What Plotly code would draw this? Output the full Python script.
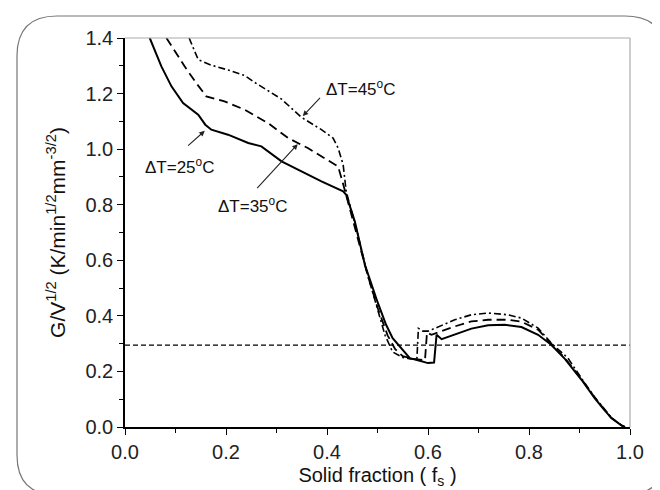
import plotly.graph_objects as go

# ---- data ----
x_25 = [0.049, 0.072, 0.092, 0.115, 0.145, 0.159, 0.171, 0.204, 0.244, 0.27, 0.31, 0.349, 0.389, 0.432,
        0.438, 0.455, 0.475, 0.50, 0.517, 0.53, 0.541, 0.564, 0.58, 0.60, 0.612, 0.617, 0.627, 0.653,
        0.686, 0.719, 0.752, 0.785, 0.818, 0.844, 0.871, 0.904, 0.930, 0.947, 0.963, 0.983, 0.99]
y_25 = [1.4, 1.298, 1.226, 1.166, 1.124, 1.088, 1.070, 1.052, 1.022, 1.01, 0.956, 0.92, 0.884, 0.848,
        0.836, 0.74, 0.584, 0.45, 0.368, 0.32, 0.296, 0.248, 0.24, 0.23, 0.232, 0.332, 0.316, 0.332,
        0.354, 0.366, 0.368, 0.36, 0.332, 0.296, 0.245, 0.17, 0.104, 0.066, 0.032, 0.006, 0.0]

x_35 = [0.082, 0.118, 0.141, 0.161, 0.197, 0.237, 0.283, 0.323, 0.362, 0.395, 0.422, 0.435, 0.44, 0.46,
        0.48, 0.50, 0.52, 0.535, 0.55, 0.57, 0.594, 0.598, 0.607, 0.653, 0.686, 0.719, 0.758, 0.785,
        0.818, 0.844, 0.871, 0.904, 0.930, 0.947, 0.963, 0.983, 0.99]
y_35 = [1.4, 1.298, 1.238, 1.19, 1.172, 1.142, 1.094, 1.04, 1.004, 0.968, 0.938, 0.854, 0.82, 0.69,
        0.55, 0.43, 0.33, 0.28, 0.255, 0.245, 0.24, 0.34, 0.332, 0.362, 0.38, 0.386, 0.386, 0.379,
        0.35, 0.30, 0.248, 0.172, 0.106, 0.068, 0.033, 0.006, 0.0]

x_45 = [0.127, 0.145, 0.171, 0.204, 0.237, 0.257, 0.31, 0.349, 0.389, 0.412, 0.422, 0.432, 0.438,
        0.46, 0.48, 0.50, 0.515, 0.53, 0.55, 0.565, 0.578, 0.581, 0.59, 0.60, 0.607, 0.653, 0.686,
        0.719, 0.758, 0.785, 0.818, 0.844, 0.877, 0.904, 0.930, 0.947, 0.963, 0.983, 0.99]
y_45 = [1.4, 1.322, 1.302, 1.285, 1.265, 1.24, 1.18, 1.115, 1.07, 1.04, 1.004, 0.944, 0.848,
        0.70, 0.55, 0.42, 0.33, 0.27, 0.25, 0.245, 0.245, 0.355, 0.345, 0.345, 0.35, 0.386, 0.404,
        0.41, 0.404, 0.392, 0.356, 0.302, 0.248, 0.175, 0.108, 0.07, 0.034, 0.006, 0.0]

ref_x = [0.0, 1.0]
ref_y = [0.295, 0.295]

labels = ["ΔT=25<sup>o</sup>C", "ΔT=35<sup>o</sup>C", "ΔT=45<sup>o</sup>C"]
label_pos = [(0.107, 0.94), (0.253, 0.80), (0.466, 1.22)]
arrow_tip = [(0.158, 1.066), (0.342, 1.018), (0.352, 1.119)]
arrow_tail = [(0.122, 1.008), (0.259, 0.854), (0.389, 1.19)]

FONT = "Liberation Sans, Arial, sans-serif"

fig = go.Figure()
fig.add_trace(go.Scatter(x=ref_x, y=ref_y, mode="lines",
                         line=dict(color="black", width=1.2, dash="5px,3px")))
fig.add_trace(go.Scatter(x=x_25, y=y_25, mode="lines", line=dict(color="black", width=2)))
fig.add_trace(go.Scatter(x=x_35, y=y_35, mode="lines",
                         line=dict(color="black", width=1.8, dash="9px,5px")))
fig.add_trace(go.Scatter(x=x_45, y=y_45, mode="lines",
                         line=dict(color="black", width=1.6, dash="7px,3px,2px,3px")))

for (tx, ty), lab in zip(label_pos, labels):
    fig.add_annotation(x=tx, y=ty, text=lab, showarrow=False,
                       font=dict(family=FONT, size=17, color="#111"))
for (hx, hy), (sx, sy) in zip(arrow_tip, arrow_tail):
    fig.add_annotation(x=hx, y=hy, ax=sx, ay=sy, axref="x", ayref="y", text="",
                       showarrow=True, arrowhead=2, arrowsize=1, arrowwidth=1.1,
                       arrowcolor="#222")

# plot frame (top/right in gray)
fig.add_shape(type="line", xref="paper", yref="paper", x0=0, x1=1, y0=1, y1=1,
              line=dict(color="#aaaaaa", width=1.2))
fig.add_shape(type="line", xref="paper", yref="paper", x0=1, x1=1, y0=0, y1=1,
              line=dict(color="#aaaaaa", width=1.2))

# rounded outer border
L, R, T, B, W, H = 117, 622, 30, 419, 505, 389
def px(x):
    return (x - L) / W
def py(y):
    return (B - y) / H
fl, fr, ft, fb, rad = 9, 657, 8, 487, 40
path = (f"M {px(fl+rad)},{py(ft)} L {px(fr-rad)},{py(ft)} Q {px(fr)},{py(ft)} {px(fr)},{py(ft+rad)} "
        f"L {px(fr)},{py(fb-rad)} Q {px(fr)},{py(fb)} {px(fr-rad)},{py(fb)} "
        f"L {px(fl+rad)},{py(fb)} Q {px(fl)},{py(fb)} {px(fl)},{py(fb-rad)} "
        f"L {px(fl)},{py(ft+rad)} Q {px(fl)},{py(ft)} {px(fl+rad)},{py(ft)} Z")
fig.add_shape(type="path", xref="paper", yref="paper", path=path,
              line=dict(color="#777777", width=1.2), layer="below")

axis_common = dict(showline=True, linecolor="black", linewidth=1.5, ticks="outside",
                   ticklen=6, tickwidth=1.3, tickcolor="black", showgrid=False, zeroline=False,
                   tickformat=".1f", tickfont=dict(family=FONT, size=20, color="#222"))
fig.update_xaxes(range=[0, 1], dtick=0.2, tick0=0,
                 minor=dict(dtick=0.1, ticklen=4, tickwidth=1.2, tickcolor="black", ticks="outside"),
                 title=dict(text="Solid fraction ( f<sub>s</sub> )",
                            font=dict(family=FONT, size=20, color="#111"), standoff=6),
                 **axis_common)
fig.update_yaxes(range=[0, 1.4], dtick=0.2, tick0=0,
                 minor=dict(dtick=0.1, ticklen=4, tickwidth=1.2, tickcolor="black", ticks="outside"),
                 title=dict(text="G/V<sup>1/2</sup> (K/min<sup>1/2</sup>mm<sup>-3/2</sup>)",
                            font=dict(family=FONT, size=21, color="#111"), standoff=14),
                 **axis_common)

fig.update_layout(width=660, height=490, showlegend=False,
                  margin=dict(l=L, r=660 - R, t=T, b=490 - B),
                  plot_bgcolor="white", paper_bgcolor="white")

fig.write_html("out.html")
